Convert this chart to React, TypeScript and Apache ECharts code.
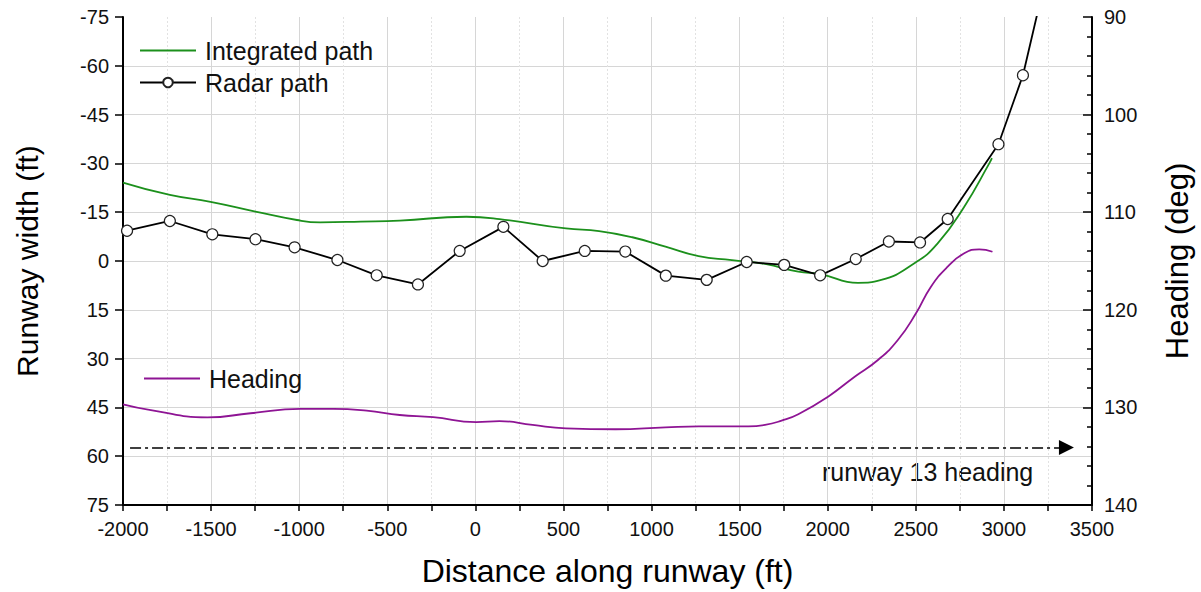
import React, { useEffect, useRef } from "react";
import * as echarts from "echarts";

const FONT = 'Arial, "Liberation Sans", Helvetica, sans-serif';

// Distance along runway (ft) / runway width (ft) for radar fixes
const radarX = [-1977, -1734, -1493, -1248, -1026, -783, -560, -326, -89, 159, 382, 621, 851, 1081, 1313, 1540, 1753, 1957, 2159, 2347, 2524, 2681, 2969, 3108, 3250];
const radarY = [-9.3, -12.3, -8.2, -6.7, -4.2, -0.3, 4.4, 7.2, -3.1, -10.5, 0, -3.1, -2.9, 4.5, 5.8, 0.3, 1.2, 4.4, -0.6, -6.0, -5.7, -12.9, -35.9, -57.1, -90];

// Integrated path
const intX = [-2000, -1734, -1503, -1248, -1013, -881, -650, -429, -51, 137, 514, 702, 891, 1079, 1267, 1456, 1644, 1833, 1957, 2172, 2304, 2492, 2624, 2775, 2917, 2932];
const intY = [-24.1, -20.3, -18.2, -15.2, -12.6, -11.9, -12.1, -12.4, -13.6, -12.9, -10.0, -9.2, -7.3, -4.4, -1.5, -0.3, 0.9, 3.3, 4.0, 6.7, 5.8, 0.7, -5.4, -16.7, -30.0, -31.6];

// Heading (deg)
const headX = [-2000, -1842, -1521, -1276, -994, -805, -617, -429, -240, 5, 137, 325, 514, 796, 1079, 1267, 1550, 1644, 1738, 1833, 2002, 2153, 2285, 2398, 2501, 2586, 2681, 2775, 2860, 2935];
const headY = [129.68, 130.27, 131.02, 130.6, 130.16, 130.16, 130.34, 130.78, 131.0, 131.5, 131.4, 131.8, 132.14, 132.24, 132.04, 131.94, 131.94, 131.8, 131.36, 130.7, 128.9, 126.85, 125.14, 123.1, 120.36, 117.63, 115.58, 114.21, 113.8, 114.05];

// Runway 13 heading reference line
const runwayHeading = 134.1;
const runwayLineX = [-1960, 3355];

const zip = (xs: number[], ys: number[]) => xs.map((x, i) => [x, ys[i]]);

export default function App() {
  const ref = useRef<HTMLDivElement>(null);
  useEffect(() => {
    if (!ref.current) return;
    const chart = echarts.init(ref.current, undefined, { renderer: "svg" });
    const legendText = { fontSize: 25, color: "#111", fontFamily: FONT, padding: [0, 0, 0, 4] };
    const option = {
      animation: false,
      backgroundColor: "#ffffff",
      textStyle: { fontFamily: FONT },
      grid: { left: 123, right: 104, top: 17, bottom: 87, containLabel: false },
      legend: [
        {
          data: [
            { name: "Integrated path", itemStyle: { opacity: 0 } },
            { name: "Radar path" },
          ],
          orient: "vertical",
          left: 134,
          top: 33,
          itemWidth: 56,
          itemHeight: 12,
          itemGap: 7,
          textStyle: legendText,
        },
        {
          data: [{ name: "Heading", itemStyle: { opacity: 0 } }],
          orient: "vertical",
          left: 138,
          top: 361,
          itemWidth: 56,
          itemHeight: 12,
          textStyle: legendText,
        },
      ],
      xAxis: {
        type: "value",
        min: -2000,
        max: 3500,
        interval: 500,
        name: "Distance along runway (ft)",
        nameLocation: "middle",
        nameGap: 50,
        nameTextStyle: { fontSize: 32, color: "#000", fontFamily: FONT },
        axisLine: { show: true, onZero: false, lineStyle: { color: "#000", width: 2 } },
        axisTick: { show: true, inside: false, length: 6, lineStyle: { color: "#000", width: 1.5 } },
        minorTick: { show: true, splitNumber: 2, length: 6, lineStyle: { color: "#000", width: 1.5 } },
        axisLabel: { fontSize: 20, color: "#111", margin: 14, fontFamily: FONT, formatter: (v: number) => String(v) },
        splitLine: { show: true, lineStyle: { color: "#d6d6d6", width: 1 } },
        minorSplitLine: { show: true, lineStyle: { color: "#e2e2e2", width: 1, type: [2, 2] } },
      },
      yAxis: [
        {
          type: "value",
          min: -75,
          max: 75,
          interval: 15,
          inverse: true,
          position: "left",
          name: "Runway width (ft)",
          nameLocation: "middle",
          nameRotate: 90,
          nameGap: 81,
          nameTextStyle: { fontSize: 30, color: "#000", fontFamily: FONT },
          axisLine: { show: true, onZero: false, lineStyle: { color: "#000", width: 2 } },
          axisTick: { show: true, inside: false, length: 8, lineStyle: { color: "#000", width: 1.5 } },
          axisLabel: { fontSize: 20, color: "#111", margin: 14, fontFamily: FONT, formatter: (v: number) => String(v) },
          splitLine: { show: true, showMinLine: false, lineStyle: { color: "#d6d6d6", width: 1 } },
        },
        {
          type: "value",
          min: 90,
          max: 140,
          interval: 10,
          inverse: true,
          position: "right",
          name: "Heading (deg)",
          nameLocation: "middle",
          nameRotate: 90,
          nameGap: 70,
          nameTextStyle: { fontSize: 31, color: "#000", fontFamily: FONT },
          axisLine: { show: true, onZero: false, lineStyle: { color: "#000", width: 2 } },
          axisTick: { show: true, inside: true, length: 9, lineStyle: { color: "#000", width: 1.5 } },
          minorTick: { show: true, splitNumber: 5, length: 5, lineStyle: { color: "#000", width: 1.5 } },
          axisLabel: { fontSize: 20, color: "#111", margin: 12, fontFamily: FONT, formatter: (v: number) => String(v) },
          splitLine: { show: false },
        },
      ],
      graphic: [
        {
          type: "text",
          left: 822,
          top: 459,
          style: { text: "runway 13 heading", fontSize: 25, fill: "#111", fontFamily: FONT },
        },
      ],
      series: [
        {
          name: "Integrated path",
          type: "line",
          data: zip(intX, intY),
          yAxisIndex: 0,
          smooth: 0.5,
          symbol: "none",
          color: "#1c901c",
          lineStyle: { color: "#1c901c", width: 1.8 },
          clip: true,
          z: 2,
        },
        {
          name: "Radar path",
          type: "line",
          data: zip(radarX, radarY),
          yAxisIndex: 0,
          symbol: "circle",
          symbolSize: 11,
          color: "#000",
          itemStyle: { color: "#ffffff", borderColor: "#222", borderWidth: 1.2 },
          lineStyle: { color: "#000", width: 1.8 },
          clip: true,
          z: 3,
        },
        {
          name: "Heading",
          type: "line",
          data: zip(headX, headY),
          yAxisIndex: 1,
          smooth: 0.5,
          symbol: "none",
          color: "#8e1494",
          lineStyle: { color: "#8e1494", width: 1.8 },
          clip: true,
          z: 2,
          markLine: {
            silent: true,
            symbol: ["none", "triangle"],
            symbolSize: [15, 15],
            label: { show: false },
            lineStyle: { color: "#000", width: 1.5, type: [11, 4, 3, 4] },
            data: [
              [
                { coord: [runwayLineX[0], runwayHeading] },
                { coord: [runwayLineX[1], runwayHeading] },
              ],
            ],
          },
        },
      ],
    };
    chart.setOption(option as any);
    return () => chart.dispose();
  }, []);
  return (
    <div
      ref={ref}
      style={{ position: "absolute", left: 0, top: 0, width: 1201, height: 592, background: "#fff" }}
    />
  );
}
